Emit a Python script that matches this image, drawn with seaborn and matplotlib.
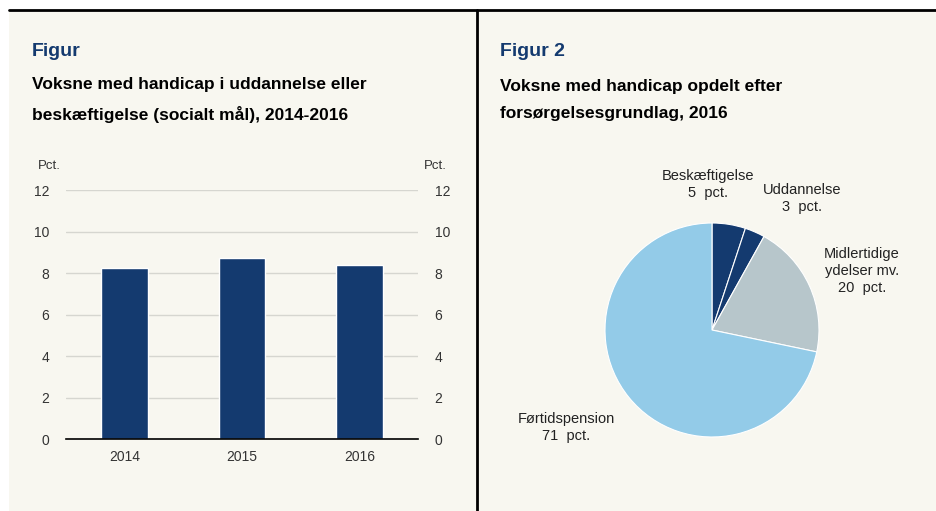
import matplotlib
matplotlib.use("Agg")
import matplotlib.pyplot as plt
import seaborn as sns
import pandas as pd
import numpy as np
from matplotlib.lines import Line2D
from matplotlib.patches import Rectangle

sns.set_theme(style="white")
plt.rcParams['font.family'] = ['Liberation Sans', 'DejaVu Sans']

# ---- data ----
years = ["2014", "2015", "2016"]
share = [8.25, 8.7, 8.4]
yticks = [0, 2, 4, 6, 8, 10, 12]

pie_labels = ["Beskæftigelse", "Uddannelse", "Midlertidige\nydelser mv.", "Førtidspension"]
pie_values = [5, 3, 20, 71]
pie_colors = ["#143a6f", "#143a6f", "#b7c6cb", "#93cbe8"]

title1 = "Figur"
sub1 = "Voksne med handicap i uddannelse eller\nbeskæftigelse (socialt mål), 2014-2016"
title2 = "Figur 2"
sub2 = "Voksne med handicap opdelt efter\nforsørgelsesgrundlag, 2016"

BG = "#f8f7f0"
NAVY = "#143a6f"
W, H = 936, 511

fig = plt.figure(figsize=(W / 100, H / 100), dpi=100)
fig.patch.set_facecolor("white")

def fx(px):
    return px / W

def fy(py):
    return 1 - py / H

# panel backgrounds and frame lines
fig.patches.append(Rectangle((fx(9), 0), fx(477 - 9), fy(10), transform=fig.transFigure,
                             facecolor=BG, edgecolor="none", zorder=-10))
fig.patches.append(Rectangle((fx(477), 0), fx(W - 477), fy(10), transform=fig.transFigure,
                             facecolor=BG, edgecolor="none", zorder=-10))
fig.add_artist(Line2D([fx(9), 1], [fy(10), fy(10)], transform=fig.transFigure, color="black", lw=2))
fig.add_artist(Line2D([fx(477), fx(477)], [0, fy(10)], transform=fig.transFigure, color="black", lw=2))

# titles
fig.text(fx(32), fy(51), title1, color=NAVY, fontsize=14, fontweight="bold", va="center", ha="left")
fig.text(fx(32), fy(100), sub1, color="black", fontsize=12.5, fontweight="bold", va="center", ha="left",
         linespacing=2.0)
fig.text(fx(500), fy(51), title2, color=NAVY, fontsize=14, fontweight="bold", va="center", ha="left")
fig.text(fx(500), fy(100), sub2, color="black", fontsize=12.5, fontweight="bold", va="center", ha="left",
         linespacing=2.0)

# ---- bar chart ----
ax = fig.add_axes([fx(66), fy(439), fx(418 - 66), (439 - 190) / H])
ax.set_facecolor("none")
df = pd.DataFrame({"year": years, "share": share})
sns.barplot(data=df, x="year", y="share", color=NAVY, width=0.4, ax=ax, saturation=1, zorder=3)
ax.set_ylim(0, 12)
ax.set_xlim(-0.5, 2.5)
ax.set_yticks(yticks)
ax.set_xlabel("")
ax.set_ylabel("")
ax.grid(axis="y", color="#d6d6d0", lw=1, zorder=0)
ax.set_axisbelow(True)
for s in ["top", "left", "right"]:
    ax.spines[s].set_visible(False)
ax.spines["bottom"].set_color("black")
ax.spines["bottom"].set_linewidth(1.2)
ax.spines["bottom"].set_zorder(5)
ax.tick_params(axis="y", length=0, labelsize=10, labelcolor="#333333", pad=12)
ax.tick_params(axis="x", which="major", length=0, labelsize=10, labelcolor="#333333", pad=8)
ax.set_xticks([-0.5, 0.5, 1.5, 2.5], minor=True)
ax.tick_params(axis="x", which="minor", length=4, width=1, color="black", direction="out")

ax2 = ax.twinx()
ax2.set_ylim(0, 12)
ax2.set_yticks(yticks)
for s in ["top", "left", "right", "bottom"]:
    ax2.spines[s].set_visible(False)
ax2.tick_params(axis="y", length=0, labelsize=10, labelcolor="#333333", pad=12)

fig.text(fx(38), fy(166), "Pct.", fontsize=9.5, color="#333333", ha="left", va="center")
fig.text(fx(447), fy(166), "Pct.", fontsize=9.5, color="#333333", ha="right", va="center")

# ---- pie chart ----
R = 107
pax = fig.add_axes([fx(712 - R), fy(330 + R), fx(2 * R), 2 * R / H])
pax.pie(pie_values, colors=pie_colors, startangle=90, counterclock=False,
        wedgeprops=dict(edgecolor="white", linewidth=0.8))
pax.set_xlim(-1, 1)
pax.set_ylim(-1, 1)
pax.set_aspect("equal")

label_pos = [(-0.04, 1.36), (0.84, 1.23), (1.40, 0.55), (-1.36, -0.91)]
for lab, val, (lx, ly) in zip(pie_labels, pie_values, label_pos):
    pax.text(lx, ly, f"{lab}\n{val}  pct.", ha="center", va="center", fontsize=10.5,
             color="#222222", linespacing=1.3, clip_on=False)

fig.savefig("out.png", dpi=100, facecolor=fig.get_facecolor())
